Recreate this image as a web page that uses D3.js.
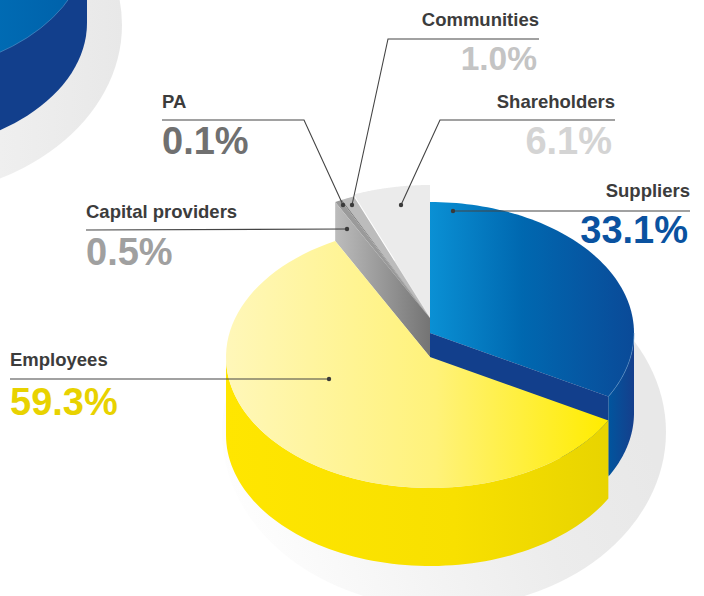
<!DOCTYPE html>
<html lang="en">
<head>
<meta charset="utf-8">
<title>Value distribution</title>
<style>
  html, body { margin: 0; background: #fff; }
  svg { display: block; }
  text { font-family: "Liberation Sans", sans-serif; font-weight: 700; }
</style>
</head>
<body>
<div id="chart"></div>
<script src="https://d3js.org/d3.v7.min.js"></script>
<script>
const categories = ["Suppliers", "Employees", "Capital providers", "PA", "Communities", "Shareholders"];
const shares = [33.1, 59.3, 0.5, 0.1, 1.0, 6.1];
const valueColors = ["#0a52a0", "#e8d200", "#a0a0a0", "#707070", "#c4c4c4", "#d4d4d4"];

const width = 704, height = 596;
const rx = 204, ry = 131, cx = 430;
const depth = 78;
const levels = [333, 357, 318, 318, 318, 316]; // apex height of each slice's top face

// where each caption sits and where its leader ends up
const captions = [
  { x: 690, valueX: 688, size: 38, anchor: "end",   nameY: 197, valueY: 243, path: [[690, 211], [453, 211]] },
  { x: 10,  valueX: 10,  size: 38, anchor: "start", nameY: 366, valueY: 415, path: [[10, 379], [329, 379]] },
  { x: 86,  valueX: 86,  size: 38, anchor: "start", nameY: 218, valueY: 265, path: [[86, 230], [347, 229]] },
  { x: 162, valueX: 162, size: 38, anchor: "start", nameY: 108, valueY: 154, path: [[162, 120], [304, 120], [343, 205]] },
  { x: 539, valueX: 537, size: 33.5, anchor: "end", nameY: 26,  valueY: 70,  path: [[539, 39], [388, 39], [352, 205]] },
  { x: 615, valueX: 612, size: 38, anchor: "end",   nameY: 108, valueY: 154, path: [[615, 120], [440, 120], [401, 205]] }
];

const svg = d3.select("#chart").append("svg").attr("width", width).attr("height", height);
const defs = svg.append("defs");

function gradient(id, x1, x2, stops, y1 = 0, y2 = 0) {
  const g = defs.append("linearGradient").attr("id", id)
    .attr("gradientUnits", "userSpaceOnUse")
    .attr("x1", x1).attr("x2", x2).attr("y1", y1).attr("y2", y2);
  stops.forEach(s => g.append("stop").attr("offset", s[0]).attr("stop-color", s[1]));
}

gradient("blueTop", cx, cx + rx, [[0, "#0a90d4"], [0.45, "#0068b0"], [1, "#0a4a98"]]);
gradient("blueWall", cx + 177, cx + rx, [[0, "#00569f"], [1, "#153f8c"]]);
gradient("yellowTop", cx - rx, cx + 177, [[0, "#fff7b9"], [0.55, "#fff27a"], [1, "#ffec00"]]);
gradient("yellowWall", cx - rx, cx + 177, [[0, "#ffe600"], [0.6, "#f8e000"], [1, "#e8d400"]]);
gradient("greyWall", cx - 96, cx, [[0, "#bdbdbd"], [1, "#747474"]]);
gradient("shadow", 240, 640, [[0, "#ffffff"], [0.25, "#f8f8f8"], [0.7, "#ececec"], [1, "#e8e8e8"]], 570, 420);
gradient("cornerShadow", 0, 122, [[0, "#efefef"], [1, "#e8e8e8"]]);
gradient("cornerTop", -40, 90, [[0, "#0070b8"], [1, "#005fa8"]]);

// ellipse point for an angle measured clockwise from the top
function project(a, y0) {
  return [cx + rx * Math.sin(a), y0 - ry * Math.cos(a)];
}

function rim(from, to, y0) {
  const n = 80;
  return d3.range(n + 1).map(i => project(from + (to - from) * i / n, y0));
}

const slices = d3.pie().sort(null)(shares);
const line = d3.line();

// only the front half of the rim is ever visible
function rimWall(d, y0, h) {
  const from = Math.max(d.startAngle, Math.PI / 2);
  const to = Math.min(d.endAngle, Math.PI * 1.5);
  return line(rim(from, to, y0).concat(rim(from, to, y0 + h).reverse())) + "Z";
}

function cutWall(a, y0, h) {
  const p = project(a, y0);
  return line([[cx, y0], p, [p[0], p[1] + h], [cx, y0 + h]]) + "Z";
}

function topFace(g, d, y0, fill) {
  return g.append("path")
    .attr("d", line([[cx, y0]].concat(rim(d.startAngle, d.endAngle, y0))) + "Z")
    .attr("fill", fill);
}

function rimLine(g, d, y0, color) {
  return g.append("path")
    .attr("d", line(rim(d.startAngle, d.endAngle, y0)))
    .attr("fill", "none").attr("stroke", color).attr("stroke-width", 0.6);
}

// cropped neighbour pie in the top left corner
const corner = svg.append("g");
corner.append("ellipse").attr("cx", -100).attr("cy", 25).attr("rx", 222).attr("ry", 172).attr("fill", "url(#cornerShadow)");
corner.append("ellipse").attr("cx", -117).attr("cy", 23).attr("rx", rx).attr("ry", ry).attr("fill", "#123f8c");
corner.append("rect").attr("x", -321).attr("y", -55).attr("width", rx * 2).attr("height", depth).attr("fill", "#123f8c");
corner.append("ellipse").attr("cx", -117).attr("cy", -55).attr("rx", rx).attr("ry", ry)
  .attr("fill", "url(#cornerTop)").attr("stroke", "#5d94c8").attr("stroke-width", 0.6);

// ground shadow
svg.append("ellipse").attr("cx", 444).attr("cy", 432).attr("rx", 222).attr("ry", 176).attr("fill", "url(#shadow)");

const pie = svg.append("g");
const [supp, empl, capi, pa, comm, shar] = slices;

// grey slices sit behind, so they go first
topFace(pie, shar, levels[5], "#ebebeb");
topFace(pie, comm, levels[4], "#bcbcbc");
topFace(pie, pa, levels[3], "#7d7d7d");
topFace(pie, capi, levels[2], "#9a9a9a");
pie.append("path").attr("d", cutWall(capi.startAngle, levels[2], 39)).attr("fill", "url(#greyWall)");

// suppliers, raised above the yellow slice
pie.append("path").attr("d", rimWall(supp, levels[0], depth + 2)).attr("fill", "url(#blueWall)");
topFace(pie, supp, levels[0], "url(#blueTop)");
rimLine(pie, { startAngle: Math.PI / 2, endAngle: supp.endAngle }, levels[0], "#5d94c8");
pie.append("path").attr("d", cutWall(supp.endAngle, levels[0], depth)).attr("fill", "#123f8c");

// employees
pie.append("path").attr("d", rimWall(empl, levels[1], depth)).attr("fill", "url(#yellowWall)");
topFace(pie, empl, levels[1], "url(#yellowTop)");

// captions and leaders
const cap = svg.append("g").selectAll("g").data(categories).join("g");

cap.append("path")
  .attr("d", (d, i) => line(captions[i].path))
  .attr("fill", "none").attr("stroke", "#444").attr("stroke-width", 1.1);

cap.append("circle")
  .attr("cx", (d, i) => captions[i].path[captions[i].path.length - 1][0])
  .attr("cy", (d, i) => captions[i].path[captions[i].path.length - 1][1])
  .attr("r", 2.2).attr("fill", "#3a3a3a");

cap.append("text")
  .attr("x", (d, i) => captions[i].x)
  .attr("y", (d, i) => captions[i].nameY)
  .attr("text-anchor", (d, i) => captions[i].anchor)
  .attr("font-size", 18.5).attr("fill", "#3c3c3c")
  .text(d => d);

cap.append("text")
  .attr("x", (d, i) => captions[i].valueX)
  .attr("y", (d, i) => captions[i].valueY)
  .attr("text-anchor", (d, i) => captions[i].anchor)
  .attr("font-size", (d, i) => captions[i].size).attr("fill", (d, i) => valueColors[i])
  .text((d, i) => shares[i].toFixed(1) + "%");
</script>
</body>
</html>
